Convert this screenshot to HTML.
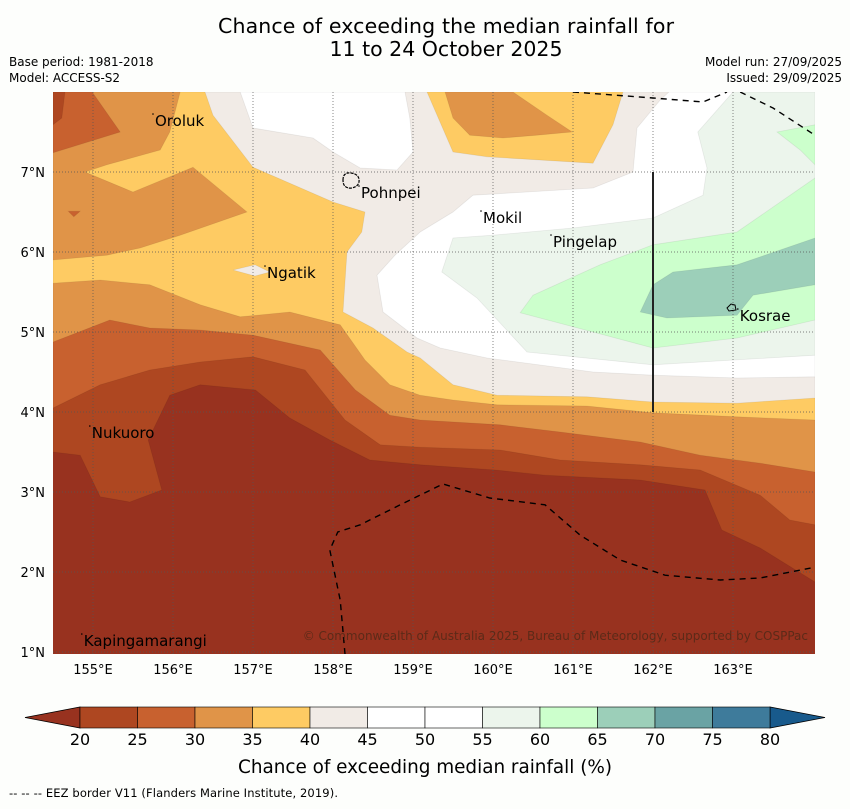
<!DOCTYPE html>
<html><head><meta charset="utf-8"><style>
html,body{margin:0;padding:0;background:#fdfefc;}
body{width:850px;height:804px;overflow:hidden;font-family:"Liberation Sans","DejaVu Sans",sans-serif;}
svg text{font-family:"DejaVu Sans","Liberation Sans",sans-serif;}
</style></head><body>
<svg id="chart" width="850" height="804" xmlns="http://www.w3.org/2000/svg">
<rect width="850" height="804" fill="#fdfefc"/>
<text x="446" y="33" font-size="20.5" text-anchor="middle" textLength="456">Chance of exceeding the median rainfall for</text>
<text x="446" y="56" font-size="20.5" text-anchor="middle">11 to 24 October 2025</text>
<text x="9" y="66" font-size="12">Base period: 1981-2018</text>
<text x="9" y="82" font-size="12">Model: ACCESS-S2</text>
<text x="842" y="66" font-size="12" text-anchor="end">Model run: 27/09/2025</text>
<text x="842" y="82" font-size="12" text-anchor="end">Issued: 29/09/2025</text>
<defs><clipPath id="mapclip"><rect x="53" y="92" width="762" height="562"/></clipPath></defs>
<g id="map" clip-path="url(#mapclip)"></g>
<g id="axes"></g>
<g id="cbar"></g>
<text x="425" y="773" font-size="18.4" text-anchor="middle" textLength="374">Chance of exceeding median rainfall (%)</text>
<text x="9" y="797" font-size="11.5" textLength="329">--  --  -- EEZ border V11 (Flanders Marine Institute, 2019).</text>
</svg>
<script>
// ---- data ----
const levelColors = ["#98321f","#ae4721","#c8612f","#e09448","#fecb63","#f1ebe6","#ffffff","#ffffff","#ecf5ec","#ccffcc","#9ccfb9","#6aa3a4","#3e7b9b"];
const levelTicks = [20,25,30,35,40,45,50,55,60,65,70,75,80];
const lonTicks = [155,156,157,158,159,160,161,162,163];
const latTicks = [1,2,3,4,5,6,7];
// contour regions: [level index, [[lon,lat],...]] painted in order
const regionLevels = [1,2,3,4,5,3,2,1,2,4,3,6,6,8,9,9,10,5];
const regionShapes = [
 [[154.5,8],[164.025,8],[164.025,1.875],[163.34,2.30],[162.86,2.525],[162.65,3.025],[161.84,3.15],[160.65,3.21],[160.03,3.275],[159.09,3.34],[158.46,3.4],[157.96,3.65],[157.46,3.925],[157.03,4.275],[156.34,4.34],[155.96,4.21],[155.69,3.65],[155.86,3.025],[155.46,2.875],[155.09,2.94],[154.84,3.46],[154.5,3.5]],
 [[154.5,8],[164.025,8],[164.025,2.59],[163.71,2.65],[163.34,2.96],[162.59,3.275],[161.84,3.34],[160.84,3.4],[160.09,3.525],[159.09,3.56],[158.59,3.59],[158.15,3.9],[157.65,4.525],[157.0,4.69],[156.34,4.625],[155.71,4.525],[155.09,4.34],[154.5,4.05]],
 [[154.5,8],[164.025,8],[164.025,3.25],[163.34,3.36],[162.59,3.46],[161.84,3.625],[160.84,3.75],[160.09,3.84],[159.09,3.9],[158.71,3.96],[158.28,4.275],[157.84,4.775],[157.0,4.96],[156.34,5.025],[155.71,5.05],[155.21,5.15],[154.5,4.875]],
 [[154.5,8],[164.025,8],[164.025,3.9],[163.05,3.94],[162.0,3.99],[161.175,4.075],[160.05,4.09],[159.5,4.15],[159.09,4.21],[158.71,4.34],[158.4,4.65],[158.09,5.09],[157.46,5.25],[156.84,5.19],[156.34,5.34],[155.71,5.59],[155.09,5.65],[154.5,5.61]],
 [[156.4,8],[164.025,8],[164.025,4.175],[163.05,4.11],[162.0,4.125],[161.175,4.19],[160.05,4.21],[159.5,4.34],[159.09,4.675],[158.925,4.75],[158.5,5.05],[158.125,5.25],[158.175,6.0],[158.36,6.25],[158.4,6.5],[158.0,6.625],[157.0,7.06],[156.5,7.71]],
 [[154.5,8],[156.09,8],[155.96,7.5],[155.84,7.275],[155.175,7.09],[154.9,7.0],[155.5,6.75],[156.25,7.06],[156.925,6.5],[156.09,6.21],[155.59,6.05],[155.175,5.96],[154.5,5.9]],
 [[154.5,8],[154.99,8],[155.34,7.5],[154.5,7.24]],
 [[154.5,8],[154.65,8],[154.61,7.675],[154.5,7.59]],
 [[154.69,6.51],[154.84,6.51],[154.76,6.44]],
 [[159.175,8],[159.5,7.25],[159.925,7.19],[161.25,7.11],[161.5,7.59],[161.625,8]],
 [[159.4,8],[159.5,7.675],[159.71,7.46],[160.125,7.425],[160.55,7.46],[160.99,7.5],[160.675,7.71],[160.25,8]],
 [[156.84,8],[157.0,7.55],[157.75,7.425],[158.0,7.25],[158.34,7.05],[158.8,7.025],[159.0,7.25],[158.96,7.675],[158.9,8]],
 [[162.2,8],[164.025,8],[164.025,4.44],[163.05,4.425],[162.0,4.46],[161.25,4.5],[159.925,4.675],[159.34,4.8],[159.05,4.925],[158.625,5.25],[158.55,5.71],[158.775,5.96],[159.09,6.25],[159.5,6.5],[159.75,6.71],[161.25,6.8],[161.75,7.0],[161.8,7.55],[162.09,7.9]],
 [[163.0,8],[164.025,8],[164.025,4.71],[162.0,4.59],[160.425,4.75],[159.8,5.425],[159.36,5.75],[159.5,6.175],[160.0,6.21],[161.0,6.3],[162.0,6.425],[162.625,6.71],[162.675,7.05],[162.56,7.5]],
 [[164.025,6.925],[163.05,6.25],[162.0,6.09],[161.34,5.84],[160.5,5.46],[160.34,5.24],[161.25,5.0],[162.0,4.8],[163.05,4.925],[164.025,5.15]],
 [[163.55,7.5],[164.025,7.59],[164.025,7.09],[163.84,7.275]],
 [[164.025,6.175],[163.05,5.84],[162.25,5.75],[162.0,5.59],[161.84,5.25],[162.175,5.175],[163.05,5.21],[163.25,5.46],[164.025,5.59]],
 [[156.75,5.775],[157.025,5.84],[157.21,5.75],[157.025,5.7]]
];
const eezLines = [
 [[161.0,8],[162.0,7.925],[162.625,7.875],[162.925,8]],
 [[163.09,8],[163.5,7.8],[164.025,7.46]],
 [[158.15,0.975],[158.09,1.65],[157.96,2.275],[158.06,2.5],[158.34,2.59],[158.84,2.84],[159.375,3.1],[159.96,2.925],[160.65,2.84],[161.09,2.46],[161.59,2.15],[162.15,1.96],[162.84,1.9],[163.34,1.925],[164.025,2.06]]
];
const placeNames = ["Oroluk","Pohnpei","Mokil","Pingelap","Ngatik","Kosrae","Nukuoro","Kapingamarangi"];
const placeLon = [155.75,158.325,159.85,160.725,157.15,163.06,154.96,154.86];
const placeLat = [7.65,6.75,6.4375,6.1375,5.75,5.2125,3.75,1.15];
// ---- axes ----
const X = lon => 53 + (lon - 154.5) * 80;
const Y = lat => 92 + (8 - lat) * 80;
const NS = "http://www.w3.org/2000/svg";
function mk(tag, attrs, parent){const e=document.createElementNS(NS,tag);for(const k in attrs)e.setAttribute(k,attrs[k]);parent.appendChild(e);return e;}
const map = document.getElementById('map');
const bg = mk('rect',{x:53,y:92,width:762,height:562,fill:levelColors[0]},map);


regionShapes.forEach((pts,i)=>{
  const p = mk('polygon',{points:pts.map(q=>X(q[0]).toFixed(1)+','+Y(q[1]).toFixed(1)).join(' '),fill:levelColors[regionLevels[i]],stroke:'rgba(0,0,0,0.07)','stroke-width':0.8},map);
  
  
});
lonTicks.forEach(l=>{
  const g = mk('line',{x1:X(l),x2:X(l),y1:92,y2:654,stroke:'#555','stroke-width':0.7,'stroke-dasharray':'1,2'},map);
  
  
});
latTicks.forEach(l=>{
  const g = mk('line',{x1:53,x2:815,y1:Y(l),y2:Y(l),stroke:'#555','stroke-width':0.7,'stroke-dasharray':'1,2'},map);
  
  
});
eezLines.forEach(pts=>{
  const e = mk('polyline',{points:pts.map(q=>X(q[0])+','+Y(q[1])).join(' '),fill:'none',stroke:'#000','stroke-width':1.4,'stroke-dasharray':'6,5'},map);
  
  
});
const vl = mk('line',{x1:X(162),x2:X(162),y1:Y(7),y2:Y(4),stroke:'#222','stroke-width':2},map);


const pohn = mk('path',{d:'M343,180 q0,-8 8,-7 q7,1 8,6 q1,7 -7,9 q-9,1 -9,-8z',fill:'none',stroke:'#000','stroke-width':1.2,'stroke-dasharray':'3,1'},map);


const kos = mk('path',{d:'M727,308 l4,-4 l4,1 l1,5 l-7,1z',fill:'none',stroke:'#000','stroke-width':1},map);


placeNames.forEach((n,i)=>{
  const t = mk('text',{x:X(placeLon[i])+2,y:Y(placeLat[i])+6,'font-size':15,fill:'#000'},map);
  t.textContent = n;
  
  
  const d = mk('circle',{cx:X(placeLon[i]),cy:Y(placeLat[i])-6,r:0.8,fill:'#000'},map);
  
  
});
const cp = mk('text',{x:808,y:640,'font-size':12,'text-anchor':'end',fill:'#5c2a18'},map);
cp.textContent = '© Commonwealth of Australia 2025, Bureau of Meteorology, supported by COSPPac';


const axes = document.getElementById('axes');
lonTicks.forEach(l=>{
  const t = mk('text',{x:X(l),y:674,'font-size':13,'text-anchor':'middle'},axes);
  t.textContent = l + '°E';
  
  
});
latTicks.forEach(l=>{
  const t = mk('text',{x:45,y:Y(l)+5,'font-size':13,'text-anchor':'end'},axes);
  t.textContent = l + '°N';
  
  
});
const cb = document.getElementById('cbar');
const cx0 = 80, cx1 = 770, cy0 = 707, cy1 = 728;
const segW = (cx1 - cx0) / (levelTicks.length - 1);
const lt = mk('polygon',{points:`25,717.5 ${cx0},${cy0} ${cx0},${cy1}`,fill:'#98321f',stroke:'#000','stroke-width':0.8},cb);


const rt = mk('polygon',{points:`825,717.5 ${cx1},${cy0} ${cx1},${cy1}`,fill:'#185a8c',stroke:'#000','stroke-width':0.8},cb);


for(let i=0;i<levelTicks.length-1;i++){
  const r = mk('rect',{x:cx0+i*segW,y:cy0,width:segW,height:cy1-cy0,fill:levelColors[i+1],stroke:'#000','stroke-width':0.6},cb);
  
  
}
levelTicks.forEach((v,i)=>{
  const t = mk('text',{x:cx0+i*segW,y:745,'font-size':16,'text-anchor':'middle'},cb);
  t.textContent = v;
  
  
});
</script>
</body></html>
